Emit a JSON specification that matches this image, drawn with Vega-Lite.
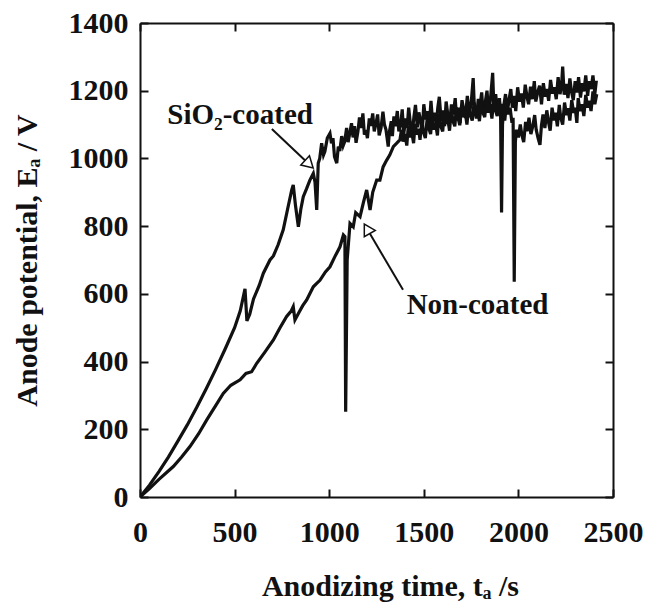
{
  "$schema": "https://vega.github.io/schema/vega-lite/v6.json",
  "width": 473,
  "height": 474,
  "autosize": {"type": "none"},
  "padding": {"left": 140, "top": 23, "right": 43, "bottom": 110},
  "background": "white",
  "config": {
    "view": {"stroke": null},
    "font": "Liberation Serif",
    "axis": {
      "domainColor": "#111111", "domainWidth": 2,
      "tickColor": "#111111", "tickWidth": 2, "tickSize": -8,
      "grid": false, "labelFlush": false,
      "labelFont": "Liberation Serif", "labelFontWeight": "bold", "labelFontSize": 30, "labelColor": "#111111",
      "titleFont": "Liberation Serif", "titleFontWeight": "bold", "titleFontSize": 30, "titleColor": "#111111"
    }
  },
  "datasets": {
    "sio2": [
      {"t": 0, "E": 0}, {"t": 50, "E": 35}, {"t": 100, "E": 75}, {"t": 150, "E": 118}, {"t": 200, "E": 165}, {"t": 250, "E": 213}, {"t": 300, "E": 265}, {"t": 350, "E": 320}, {"t": 400, "E": 377}, {"t": 450, "E": 437}, {"t": 500, "E": 500}, {"t": 530, "E": 550}, {"t": 555, "E": 615}, {"t": 565, "E": 520}, {"t": 580, "E": 540}, {"t": 600, "E": 585}, {"t": 630, "E": 625}, {"t": 652, "E": 661}, {"t": 687, "E": 700}, {"t": 705, "E": 712}, {"t": 730, "E": 745}, {"t": 757, "E": 789}, {"t": 780, "E": 850}, {"t": 802, "E": 907}, {"t": 810, "E": 922}, {"t": 822, "E": 860}, {"t": 837, "E": 798}, {"t": 850, "E": 850}, {"t": 863, "E": 887}, {"t": 880, "E": 910}, {"t": 898, "E": 936}, {"t": 916, "E": 956}, {"t": 925, "E": 930}, {"t": 934, "E": 848}, {"t": 942, "E": 986}, {"t": 950, "E": 1000}, {"t": 960, "E": 1045}, {"t": 970, "E": 1010}, {"t": 977, "E": 1020}, {"t": 990, "E": 1060},
      {"t": 1004, "E": 1074}, {"t": 1012, "E": 1045}, {"t": 1020, "E": 1060}, {"t": 1028, "E": 1005}, {"t": 1040, "E": 986}, {"t": 1048, "E": 1035}, {"t": 1056, "E": 1022}, {"t": 1066, "E": 1066}, {"t": 1074, "E": 1038}, {"t": 1082, "E": 1050}, {"t": 1092, "E": 1090}, {"t": 1100, "E": 1048}, {"t": 1108, "E": 1072}, {"t": 1118, "E": 1104}, {"t": 1126, "E": 1062}, {"t": 1134, "E": 1095}, {"t": 1142, "E": 1046}, {"t": 1152, "E": 1080}, {"t": 1160, "E": 1121}, {"t": 1170, "E": 1090}, {"t": 1178, "E": 1133}, {"t": 1186, "E": 1070}, {"t": 1194, "E": 1084}, {"t": 1202, "E": 1060}, {"t": 1212, "E": 1118}, {"t": 1220, "E": 1096}, {"t": 1230, "E": 1133}, {"t": 1238, "E": 1080}, {"t": 1248, "E": 1105}, {"t": 1256, "E": 1130}, {"t": 1264, "E": 1068}, {"t": 1274, "E": 1090}, {"t": 1284, "E": 1138}, {"t": 1292, "E": 1100}, {"t": 1300, "E": 1085}, {"t": 1312, "E": 1035}, {"t": 1318, "E": 1078}, {"t": 1328, "E": 1110}, {"t": 1334, "E": 1066}, {"t": 1342, "E": 1124}, {"t": 1350, "E": 1095}, {"t": 1360, "E": 1140}, {"t": 1368, "E": 1080}, {"t": 1378, "E": 1102}, {"t": 1386, "E": 1145}, {"t": 1394, "E": 1072}, {"t": 1404, "E": 1118}, {"t": 1412, "E": 1090}, {"t": 1420, "E": 1150}, {"t": 1430, "E": 1098}, {"t": 1438, "E": 1068}, {"t": 1448, "E": 1124}, {"t": 1456, "E": 1158}, {"t": 1466, "E": 1092}, {"t": 1474, "E": 1136}, {"t": 1484, "E": 1108}, {"t": 1492, "E": 1082}, {"t": 1500, "E": 1160}, {"t": 1510, "E": 1115}, {"t": 1520, "E": 1140}, {"t": 1528, "E": 1090}, {"t": 1538, "E": 1170}, {"t": 1546, "E": 1112}, {"t": 1556, "E": 1135}, {"t": 1566, "E": 1100}, {"t": 1574, "E": 1150}, {"t": 1582, "E": 1182}, {"t": 1592, "E": 1110}, {"t": 1600, "E": 1142}, {"t": 1610, "E": 1095}, {"t": 1618, "E": 1168}, {"t": 1628, "E": 1125}, {"t": 1638, "E": 1105}, {"t": 1646, "E": 1160}, {"t": 1656, "E": 1130}, {"t": 1666, "E": 1178}, {"t": 1674, "E": 1112}, {"t": 1684, "E": 1150}, {"t": 1692, "E": 1104}, {"t": 1702, "E": 1172}, {"t": 1712, "E": 1140}, {"t": 1720, "E": 1120}, {"t": 1730, "E": 1185}, {"t": 1740, "E": 1132}, {"t": 1750, "E": 1160}, {"t": 1761, "E": 1237}, {"t": 1768, "E": 1140}, {"t": 1778, "E": 1118}, {"t": 1788, "E": 1176}, {"t": 1796, "E": 1150}, {"t": 1806, "E": 1195}, {"t": 1814, "E": 1128}, {"t": 1824, "E": 1162}, {"t": 1834, "E": 1200}, {"t": 1842, "E": 1140}, {"t": 1852, "E": 1172}, {"t": 1864, "E": 1253}, {"t": 1870, "E": 1158}, {"t": 1880, "E": 1190}, {"t": 1890, "E": 1130}, {"t": 1900, "E": 1178}, {"t": 1906, "E": 1120}, {"t": 1911, "E": 840}, {"t": 1916, "E": 1100}, {"t": 1924, "E": 1160}, {"t": 1932, "E": 1190}, {"t": 1942, "E": 1138}, {"t": 1950, "E": 1172}, {"t": 1960, "E": 1205}, {"t": 1968, "E": 1150}, {"t": 1978, "E": 1185}, {"t": 1986, "E": 1140}, {"t": 1996, "E": 1210}, {"t": 2006, "E": 1168}, {"t": 2016, "E": 1192}, {"t": 2026, "E": 1150}, {"t": 2036, "E": 1218}, {"t": 2046, "E": 1180}, {"t": 2054, "E": 1160}, {"t": 2064, "E": 1212}, {"t": 2074, "E": 1175}, {"t": 2084, "E": 1228}, {"t": 2092, "E": 1168}, {"t": 2102, "E": 1196}, {"t": 2112, "E": 1215}, {"t": 2122, "E": 1160}, {"t": 2132, "E": 1222}, {"t": 2142, "E": 1182}, {"t": 2150, "E": 1205}, {"t": 2160, "E": 1170}, {"t": 2170, "E": 1232}, {"t": 2180, "E": 1192}, {"t": 2190, "E": 1210}, {"t": 2200, "E": 1175}, {"t": 2210, "E": 1240}, {"t": 2220, "E": 1190}, {"t": 2228, "E": 1215}, {"t": 2234, "E": 1271}, {"t": 2242, "E": 1188}, {"t": 2252, "E": 1220}, {"t": 2262, "E": 1178}, {"t": 2272, "E": 1236}, {"t": 2280, "E": 1200}, {"t": 2290, "E": 1172}, {"t": 2300, "E": 1228}, {"t": 2310, "E": 1195}, {"t": 2318, "E": 1240}, {"t": 2328, "E": 1180}, {"t": 2338, "E": 1222}, {"t": 2346, "E": 1198}, {"t": 2356, "E": 1245}, {"t": 2366, "E": 1185}, {"t": 2374, "E": 1228}, {"t": 2384, "E": 1205}, {"t": 2394, "E": 1245}, {"t": 2404, "E": 1190}, {"t": 2412, "E": 1230}
    ],
    "non": [
      {"t": 0, "E": 0}, {"t": 50, "E": 25}, {"t": 100, "E": 52}, {"t": 176, "E": 90}, {"t": 220, "E": 118}, {"t": 264, "E": 149}, {"t": 310, "E": 187}, {"t": 352, "E": 227}, {"t": 400, "E": 270}, {"t": 440, "E": 306}, {"t": 480, "E": 330}, {"t": 529, "E": 346}, {"t": 560, "E": 365}, {"t": 590, "E": 370}, {"t": 617, "E": 395}, {"t": 660, "E": 428}, {"t": 705, "E": 464}, {"t": 740, "E": 500}, {"t": 775, "E": 533}, {"t": 800, "E": 550}, {"t": 810, "E": 562}, {"t": 819, "E": 523}, {"t": 840, "E": 545}, {"t": 860, "E": 565}, {"t": 881, "E": 582}, {"t": 916, "E": 621}, {"t": 934, "E": 631}, {"t": 951, "E": 640}, {"t": 980, "E": 665}, {"t": 1004, "E": 680}, {"t": 1030, "E": 710}, {"t": 1057, "E": 739}, {"t": 1075, "E": 774}, {"t": 1083, "E": 769}, {"t": 1087, "E": 252}, {"t": 1095, "E": 700}, {"t": 1110, "E": 808}, {"t": 1127, "E": 798}, {"t": 1140, "E": 840}, {"t": 1163, "E": 828}, {"t": 1180, "E": 868}, {"t": 1198, "E": 907}, {"t": 1216, "E": 848}, {"t": 1230, "E": 900}, {"t": 1251, "E": 936}, {"t": 1268, "E": 936}, {"t": 1285, "E": 975}, {"t": 1304, "E": 995}, {"t": 1320, "E": 1010}, {"t": 1339, "E": 1035}, {"t": 1357, "E": 1045},
      {"t": 1374, "E": 1055}, {"t": 1382, "E": 1085}, {"t": 1390, "E": 1050}, {"t": 1400, "E": 1072}, {"t": 1410, "E": 1038}, {"t": 1418, "E": 1095}, {"t": 1428, "E": 1062}, {"t": 1436, "E": 1080}, {"t": 1446, "E": 1045}, {"t": 1454, "E": 1102}, {"t": 1464, "E": 1070}, {"t": 1472, "E": 1088}, {"t": 1480, "E": 1055}, {"t": 1490, "E": 1112}, {"t": 1498, "E": 1078}, {"t": 1508, "E": 1060}, {"t": 1518, "E": 1118}, {"t": 1526, "E": 1090}, {"t": 1536, "E": 1072}, {"t": 1544, "E": 1125}, {"t": 1554, "E": 1085}, {"t": 1562, "E": 1105}, {"t": 1572, "E": 1068}, {"t": 1580, "E": 1132}, {"t": 1590, "E": 1095}, {"t": 1600, "E": 1080}, {"t": 1608, "E": 1138}, {"t": 1618, "E": 1102}, {"t": 1626, "E": 1120}, {"t": 1636, "E": 1082}, {"t": 1646, "E": 1145}, {"t": 1654, "E": 1110}, {"t": 1664, "E": 1095}, {"t": 1672, "E": 1150}, {"t": 1682, "E": 1118}, {"t": 1690, "E": 1098}, {"t": 1700, "E": 1156}, {"t": 1710, "E": 1122}, {"t": 1718, "E": 1140}, {"t": 1728, "E": 1100}, {"t": 1738, "E": 1160}, {"t": 1746, "E": 1128}, {"t": 1756, "E": 1112}, {"t": 1766, "E": 1165}, {"t": 1776, "E": 1130}, {"t": 1784, "E": 1150}, {"t": 1794, "E": 1110}, {"t": 1804, "E": 1168}, {"t": 1812, "E": 1138}, {"t": 1822, "E": 1122}, {"t": 1832, "E": 1175}, {"t": 1840, "E": 1135}, {"t": 1850, "E": 1160}, {"t": 1860, "E": 1118}, {"t": 1870, "E": 1178}, {"t": 1880, "E": 1140}, {"t": 1888, "E": 1125}, {"t": 1898, "E": 1172}, {"t": 1908, "E": 1138}, {"t": 1918, "E": 1160}, {"t": 1928, "E": 1112}, {"t": 1938, "E": 1170}, {"t": 1946, "E": 1130}, {"t": 1956, "E": 1150}, {"t": 1966, "E": 1105}, {"t": 1972, "E": 1120}, {"t": 1978, "E": 636}, {"t": 1984, "E": 1050}, {"t": 1990, "E": 1085}, {"t": 2000, "E": 1062}, {"t": 2010, "E": 1100}, {"t": 2018, "E": 1070}, {"t": 2028, "E": 1048}, {"t": 2038, "E": 1108}, {"t": 2046, "E": 1080}, {"t": 2056, "E": 1120}, {"t": 2066, "E": 1072}, {"t": 2076, "E": 1095}, {"t": 2086, "E": 1128}, {"t": 2094, "E": 1085}, {"t": 2104, "E": 1060}, {"t": 2114, "E": 1040}, {"t": 2122, "E": 1098}, {"t": 2130, "E": 1130}, {"t": 2140, "E": 1090}, {"t": 2150, "E": 1142}, {"t": 2160, "E": 1105}, {"t": 2168, "E": 1082}, {"t": 2178, "E": 1150}, {"t": 2188, "E": 1112}, {"t": 2196, "E": 1135}, {"t": 2206, "E": 1095}, {"t": 2216, "E": 1158}, {"t": 2224, "E": 1120}, {"t": 2234, "E": 1100}, {"t": 2244, "E": 1165}, {"t": 2254, "E": 1128}, {"t": 2262, "E": 1148}, {"t": 2272, "E": 1112}, {"t": 2282, "E": 1172}, {"t": 2292, "E": 1135}, {"t": 2300, "E": 1150}, {"t": 2309, "E": 1105}, {"t": 2316, "E": 1178}, {"t": 2326, "E": 1140}, {"t": 2336, "E": 1160}, {"t": 2346, "E": 1125}, {"t": 2356, "E": 1188}, {"t": 2366, "E": 1150}, {"t": 2374, "E": 1170}, {"t": 2384, "E": 1140}, {"t": 2394, "E": 1198}, {"t": 2404, "E": 1160}, {"t": 2414, "E": 1190}
    ]
  },
  "layer": [
    {
      "data": {"name": "sio2"},
      "mark": {"type": "line", "color": "#111111", "strokeWidth": 3.2, "strokeJoin": "miter", "clip": true},
      "encoding": {
        "x": {"field": "t", "type": "quantitative", "scale": {"domain": [0, 2500], "nice": false},
          "axis": {"orient": "bottom", "values": [0, 500, 1000, 1500, 2000, 2500], "format": "d", "title": "Anodizing time, tₐ /s", "labelFont": "Liberation Serif", "titleFont": "Liberation Serif", "labelFontWeight": "bold", "titleFontWeight": "bold", "labelFontSize": 30, "titleFontSize": 30, "labelFlush": false, "labelPadding": 28, "titlePadding": 24, "titleX": 250}},
        "y": {"field": "E", "type": "quantitative", "scale": {"domain": [0, 1400], "nice": false},
          "axis": {"orient": "left", "values": [0, 200, 400, 600, 800, 1000, 1200, 1400], "format": "d", "title": "Anode potential, Eₐ / V", "labelFont": "Liberation Serif", "titleFont": "Liberation Serif", "labelFontWeight": "bold", "titleFontWeight": "bold", "labelFontSize": 30, "titleFontSize": 30, "labelFlush": false, "labelPadding": 20, "titlePadding": 26}}
      }
    },
    {
      "data": {"name": "non"},
      "mark": {"type": "line", "color": "#111111", "strokeWidth": 3.2, "strokeJoin": "miter", "clip": true},
      "encoding": {
        "x": {"field": "t", "type": "quantitative", "axis": null},
        "y": {"field": "E", "type": "quantitative", "axis": null}
      }
    },
    {
      "data": {"name": "non"},
      "mark": {"type": "point", "opacity": 0},
      "encoding": {
        "x": {"field": "t", "type": "quantitative",
          "axis": {"orient": "top", "values": [0, 500, 1000, 1500, 2000, 2500], "labels": false, "title": null}},
        "y": {"field": "E", "type": "quantitative",
          "axis": {"orient": "right", "values": [0, 200, 400, 600, 800, 1000, 1200, 1400], "labels": false, "title": null}}
      }
    },
    {
      "data": {"values": [
        {"label": "SiO₂-coated", "t": 529, "E": 1128},
        {"label": "Non-coated", "t": 1784, "E": 567}
      ]},
      "mark": {"type": "text", "font": "Liberation Serif", "fontWeight": "bold", "fontSize": 29, "color": "#111111", "align": "center", "baseline": "middle"},
      "encoding": {
        "x": {"field": "t", "type": "quantitative", "axis": null},
        "y": {"field": "E", "type": "quantitative", "axis": null},
        "text": {"field": "label"}
      }
    },
    {
      "data": {"values": [
        {"t1": 697, "E1": 1087, "t2": 894, "E2": 983},
        {"t1": 1390, "E1": 612, "t2": 1200, "E2": 792}
      ]},
      "mark": {"type": "rule", "color": "#111111", "strokeWidth": 2},
      "encoding": {
        "x": {"field": "t1", "type": "quantitative", "axis": null},
        "y": {"field": "E1", "type": "quantitative", "axis": null},
        "x2": {"field": "t2"},
        "y2": {"field": "E2"}
      }
    },
    {
      "data": {"values": [
        {"t": 894, "E": 983, "ang": 133},
        {"t": 1200, "E": 792, "ang": -30}
      ]},
      "mark": {"type": "point", "shape": "triangle-up", "filled": true, "fill": "white", "stroke": "#111111", "strokeWidth": 1.5, "size": 160, "opacity": 1},
      "encoding": {
        "x": {"field": "t", "type": "quantitative", "axis": null},
        "y": {"field": "E", "type": "quantitative", "axis": null},
        "angle": {"field": "ang", "type": "quantitative", "scale": null}
      }
    }
  ],
  "resolve": {"axis": {"x": "independent", "y": "independent"}}
}
